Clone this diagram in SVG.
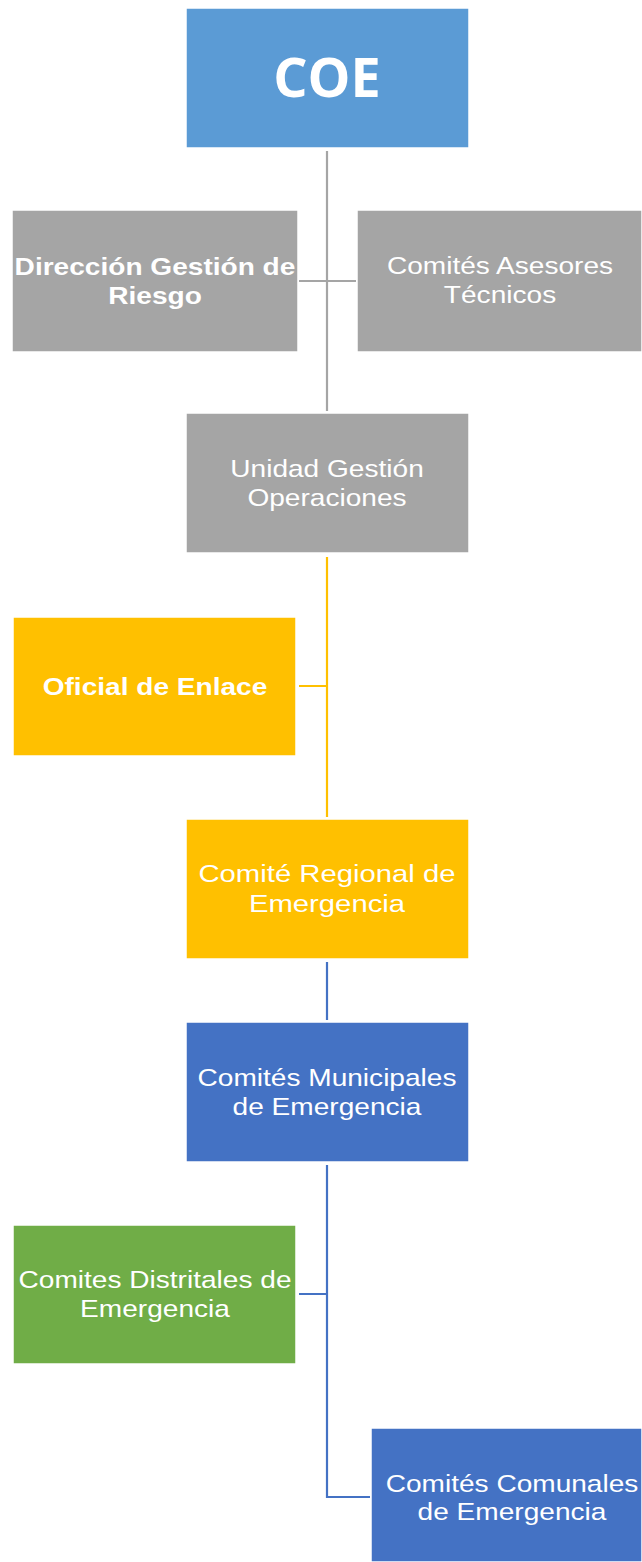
<svg xmlns="http://www.w3.org/2000/svg" width="642" height="1562" viewBox="0 0 642 1562">
<style>
.box{stroke:#ffffff;stroke-width:1.5}
.t{font-family:"Liberation Sans",Arial,sans-serif;font-size:24px;fill:#ffffff;text-anchor:middle}
.b{font-weight:bold}
.c{fill:none;stroke-width:2.2}
</style>
<rect width="642" height="1562" fill="#ffffff"/>
<g id="connectors">
<path class="c" stroke="#A5A5A5" d="M327 151V411M299 281H356"/>
<path class="c" stroke="#FFC000" d="M327 557V817M299 686H327"/>
<path class="c" stroke="#4472C4" d="M327 962V1020M327 1165V1497H370M299 1294H327"/>
</g>
<g id="coe">
<rect class="box" x="186" y="8" width="283" height="140" fill="#5B9BD5"/>
<text x="327" y="97" style="font-family:'Open Sans',sans-serif;font-weight:bold;font-size:54px;fill:#fff;text-anchor:middle">COE</text>
</g>
<g id="direccion">
<rect class="box" x="12" y="210" width="286" height="142" fill="#A5A5A5"/>
<g transform="translate(155,0) scale(1.17,1)"><text class="t b" x="0" y="275">Dirección Gestión de</text><text class="t b" x="0" y="304">Riesgo</text></g>
</g>
<g id="asesores">
<rect class="box" x="357" y="210" width="285" height="142" fill="#A5A5A5"/>
<g transform="translate(500,0) scale(1.17,1)"><text class="t" x="0" y="274">Comités Asesores</text><text class="t" x="0" y="303">Técnicos</text></g>
</g>
<g id="unidad">
<rect class="box" x="186" y="413" width="283" height="140" fill="#A5A5A5"/>
<g transform="translate(327,0) scale(1.17,1)"><text class="t" x="0" y="477">Unidad Gestión</text><text class="t" x="0" y="506">Operaciones</text></g>
</g>
<g id="oficial">
<rect class="box" x="13" y="617" width="283" height="139" fill="#FFC000"/>
<g transform="translate(155,0) scale(1.17,1)"><text class="t b" x="0" y="695">Oficial de Enlace</text></g>
</g>
<g id="regional">
<rect class="box" x="186" y="819" width="283" height="140" fill="#FFC000"/>
<g transform="translate(327,0) scale(1.22,1)"><text class="t" x="0" y="882">Comité Regional de</text><text class="t" x="0" y="912">Emergencia</text></g>
</g>
<g id="municipales">
<rect class="box" x="186" y="1022" width="283" height="140" fill="#4472C4"/>
<g transform="translate(327,0) scale(1.17,1)"><text class="t" x="0" y="1086">Comités Municipales</text><text class="t" x="0" y="1115">de Emergencia</text></g>
</g>
<g id="distritales">
<rect class="box" x="13" y="1225" width="283" height="139" fill="#70AD47"/>
<g transform="translate(155,0) scale(1.17,1)"><text class="t" x="0" y="1288">Comites Distritales de</text><text class="t" x="0" y="1317">Emergencia</text></g>
</g>
<g id="comunales">
<rect class="box" x="371" y="1428" width="271" height="134" fill="#4472C4"/>
<g transform="translate(512,0) scale(1.17,1)"><text class="t" x="0" y="1492">Comités Comunales</text><text class="t" x="0" y="1520">de Emergencia</text></g>
</g>
</svg>
